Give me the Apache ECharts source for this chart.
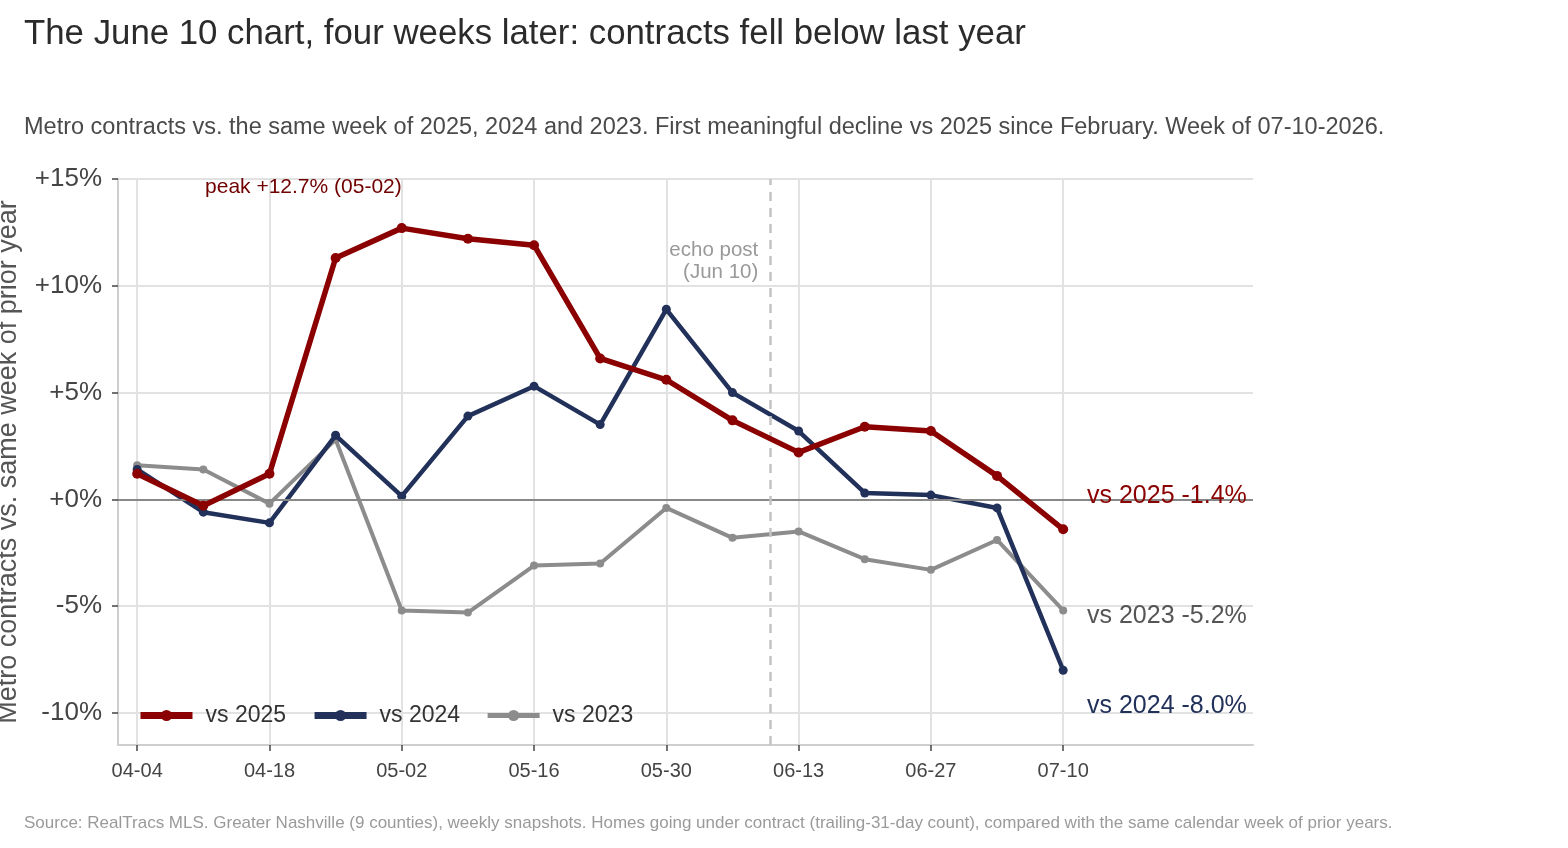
<!DOCTYPE html>
<html>
<head>
<meta charset="utf-8">
<script src="https://cdn.jsdelivr.net/npm/echarts@6/dist/echarts.min.js"></script>
<style>
html,body{margin:0;padding:0;background:#fff}
#chart{width:1568px;height:848px}
</style>
</head>
<body>
<div id="chart"></div>
<script>
// weekly snapshots, % change vs same week of prior year
var weeks = ['04-04','04-11','04-18','04-25','05-02','05-09','05-16','05-23','05-30','06-06','06-13','06-20','06-27','07-03','07-10'];
var vs2025 = [1.2, -0.3, 1.2, 11.3, 12.7, 12.2, 11.9, 6.6, 5.6, 3.7, 2.2, 3.4, 3.2, 1.1, -1.4];
var vs2024 = [1.4, -0.6, -1.1, 3.0, 0.15, 3.9, 5.3, 3.5, 8.9, 5.0, 3.2, 0.3, 0.2, -0.4, -8.0];
var vs2023 = [1.6, 1.4, -0.2, 2.8, -5.2, -5.3, -3.1, -3.0, -0.4, -1.8, -1.5, -2.8, -3.3, -1.9, -5.2];
var yTicks = [-10, -5, 0, 5, 10, 15];
var xTicks = [0, 2, 4, 6, 8, 10, 12, 14];
var echoPost = 9 + 4 / 7; // Jun 10, between 06-06 and 06-13
var peakIdx = 4;

var font = 'Liberation Sans, Arial, Helvetica, sans-serif';
var RED = '#8b0000', NAVY = '#22315a', GRAY = '#8c8c8c';

function pts(arr) {
    var out = [];
    for (var i = 0; i < arr.length; i++) {
        out.push([i, arr[i]]);
    }
    return out;
}
function fmtPct(v) {
    return (v > 0 ? '+' : '') + v.toFixed(1) + '%';
}
var last = weeks.length - 1;
var labelX = last + 0.36;

var myChart = echarts.init(document.getElementById('chart'));

var option = {
    animation: false,
    textStyle: { fontFamily: font },
    title: [
        {
            text: 'The June 10 chart, four weeks later: contracts fell below last year',
            left: 24, top: 17, padding: 0,
            textStyle: { fontSize: 34.8, fontWeight: 'normal', color: '#2b2b2b', fontFamily: font }
        },
        {
            text: 'Metro contracts vs. the same week of 2025, 2024 and 2023. First meaningful decline vs 2025 since February. Week of 07-10-2026.',
            left: 24, top: 116, padding: 0,
            textStyle: { fontSize: 23.5, fontWeight: 'normal', color: '#4a4a4a', fontFamily: font }
        },
        {
            text: 'Source: RealTracs MLS. Greater Nashville (9 counties), weekly snapshots. Homes going under contract (trailing-31-day count), compared with the same calendar week of prior years.',
            left: 24, top: 815, padding: 0,
            textStyle: { fontSize: 17, fontWeight: 'normal', color: '#9a9a9a', fontFamily: font }
        }
    ],
    legend: {
        left: 137, top: 704, padding: 0,
        itemWidth: 52, itemHeight: 14, itemGap: 25,
        textStyle: { fontSize: 23, color: '#333', padding: [0, 0, 0, 8] },
        data: [
            { name: 'vs 2025', lineStyle: { width: 7 } },
            { name: 'vs 2024', lineStyle: { width: 7 } },
            { name: 'vs 2023', lineStyle: { width: 5 } }
        ]
    },
    grid: { left: 118, right: 315, top: 179, bottom: 103, outerBoundsMode: 'none', containLabel: false },
    xAxis: {
        type: 'value',
        min: -0.29, max: 16.87,
        axisLine: { show: true, onZero: false, lineStyle: { color: '#cfcfcf', width: 2 } },
        axisTick: { show: true, customValues: xTicks, length: 6, lineStyle: { color: '#444', width: 1.5 } },
        axisLabel: {
            customValues: xTicks, margin: 16, fontSize: 20, color: '#444',
            formatter: function (v) { return weeks[Math.round(v)]; }
        },
        splitLine: { show: true, lineStyle: { color: '#e2e2e2', width: 2 } }
    },
    yAxis: {
        type: 'value',
        min: -11.5, max: 15,
        name: 'Metro contracts vs. same week of prior year',
        nameLocation: 'middle', nameGap: 96,
        nameTextStyle: { fontSize: 27, color: '#555' },
        axisLine: { show: true, onZero: false, lineStyle: { color: '#cfcfcf', width: 2 } },
        axisTick: { show: true, customValues: yTicks, length: 6, lineStyle: { color: '#444', width: 1.5 } },
        axisLabel: {
            customValues: yTicks, margin: 16, fontSize: 26, color: '#444',
            formatter: function (v) { return (v >= 0 ? '+' : '') + v + '%'; }
        },
        splitLine: { show: true, lineStyle: { color: '#e2e2e2', width: 2 } }
    },
    series: [
        {
            name: 'vs 2025', type: 'line', z: 5,
            data: pts(vs2025),
            symbol: 'circle', symbolSize: 10,
            lineStyle: { color: RED, width: 5.5 },
            itemStyle: { color: RED },
            markPoint: {
                symbol: 'circle', symbolSize: 0, silent: true,
                data: [
                    {
                        coord: [peakIdx, 14.6],
                        label: { show: true, position: 'left', distance: 0, fontSize: 21, color: '#700000',
                            formatter: 'peak ' + fmtPct(vs2025[peakIdx]) + ' (' + weeks[peakIdx] + ')' }
                    },
                    {
                        coord: [labelX, 0.14],
                        label: { show: true, position: 'right', distance: 0, fontSize: 25, color: RED,
                            formatter: 'vs 2025 ' + fmtPct(vs2025[last]) }
                    }
                ]
            }
        },
        {
            name: 'vs 2024', type: 'line', z: 4,
            data: pts(vs2024),
            symbol: 'circle', symbolSize: 9,
            lineStyle: { color: NAVY, width: 4.5 },
            itemStyle: { color: NAVY },
            markPoint: {
                symbol: 'circle', symbolSize: 0, silent: true,
                data: [
                    {
                        coord: [labelX, -9.7],
                        label: { show: true, position: 'right', distance: 0, fontSize: 25, color: NAVY,
                            formatter: 'vs 2024 ' + fmtPct(vs2024[last]) }
                    }
                ]
            }
        },
        {
            name: 'vs 2023', type: 'line', z: 3,
            data: pts(vs2023),
            symbol: 'circle', symbolSize: 8,
            lineStyle: { color: GRAY, width: 4 },
            itemStyle: { color: GRAY },
            markLine: {
                silent: true, symbol: 'none',
                label: { show: false },
                data: [
                    { yAxis: 0, lineStyle: { color: '#888', width: 2, type: 'solid' } },
                    { xAxis: echoPost, lineStyle: { color: '#c4c4c4', width: 2.5, type: [9, 7] } }
                ]
            },
            markPoint: {
                symbol: 'circle', symbolSize: 0, silent: true,
                data: [
                    {
                        coord: [labelX, -5.45],
                        label: { show: true, position: 'right', distance: 0, fontSize: 25, color: '#555',
                            formatter: 'vs 2023 ' + fmtPct(vs2023[last]) }
                    },
                    {
                        coord: [echoPost, 11.15],
                        label: { show: true, position: 'left', distance: 12, fontSize: 20.5, color: '#999',
                            lineHeight: 22, formatter: 'echo post\n(Jun 10)' }
                    }
                ]
            }
        }
    ]
};

myChart.setOption(option);
</script>
</body>
</html>
